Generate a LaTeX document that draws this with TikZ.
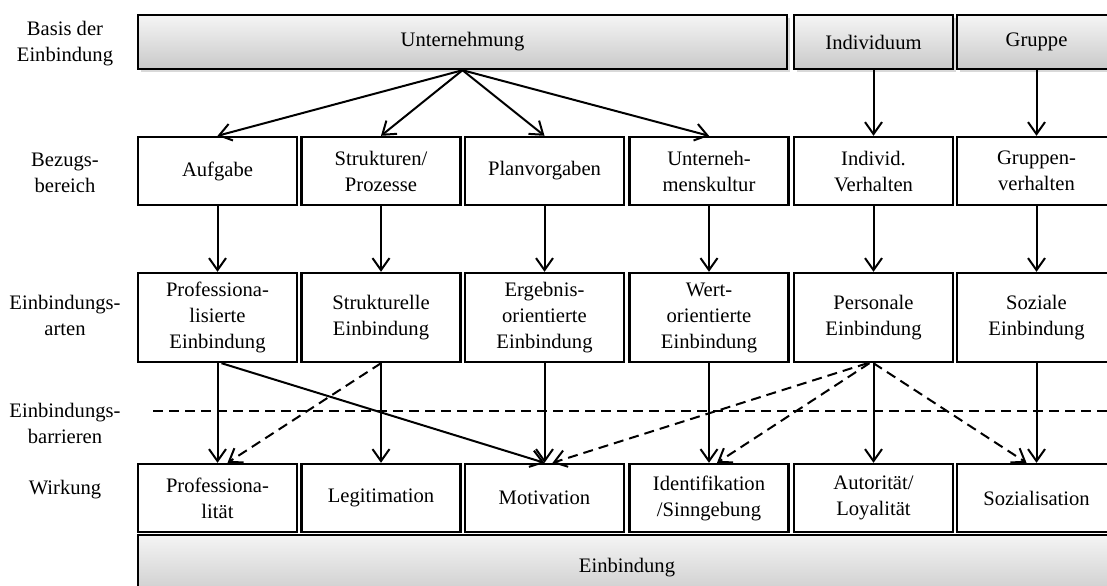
\documentclass[tikz,border=0pt]{standalone}
\usepackage{fontspec}
\setmainfont{Liberation Serif}
\usetikzlibrary{arrows.meta,shadows}

\tikzset{
  box/.style={draw,line width=1.2pt,fill=white,minimum width=79.5pt,align=center,
    inner sep=1pt,font=\fontsize{10.3}{13}\selectfont},
  basis/.style={box,top color=gray!8,bottom color=gray!42,
    drop shadow={shadow xshift=1.5pt,shadow yshift=-1.5pt,opacity=0.3}},
  lbl/.style={align=center,font=\fontsize{10.3}{13}\selectfont},
  pfeil/.style={line width=1pt,-{Straight Barb[length=6pt,width=8.5pt]}},
  strich/.style={pfeil,dash pattern=on 5pt off 3pt},
}

\begin{document}
\begin{tikzpicture}[x=0.5pt,y=-0.5pt]
  \clip (0,0) rectangle (1107,585);

  % left column: the levels
  \node[lbl] (l1) at (65,44) {Basis der\\Einbindung};
  \node[lbl] (l2) at (65,173) {Bezugs-\\bereich};
  \node[lbl] (l3) at (65,315) {Einbindungs-\\arten};
  \node[lbl] (l4) at (65,423) {Einbindungs-\\barrieren};
  \node[lbl] (l5) at (65,490) {Wirkung};

  % basis of the binding
  \node[basis,minimum width=324.5pt,minimum height=27pt] (unt) at (462.5,42) {Unternehmung};
  \node[basis,minimum height=27pt] (ind) at (873.5,42) {Individuum};
  \node[basis,minimum height=27pt] (grp) at (1036.5,42) {Gruppe};

  % reference areas
  \node[box,minimum height=34pt] (b1) at (217.5,171) {Aufgabe};
  \node[box,minimum height=34pt] (b2) at (381,171) {Strukturen/\\Prozesse};
  \node[box,minimum height=34pt] (b3) at (544.5,171) {Planvorgaben};
  \node[box,minimum height=34pt] (b4) at (709,171) {Unterneh-\\menskultur};
  \node[box,minimum height=34pt] (b5) at (873.5,171) {Individ.\\Verhalten};
  \node[box,minimum height=34pt] (b6) at (1036.5,171) {Gruppen-\\verhalten};

  % kinds of binding
  \node[box,minimum height=44.5pt] (e1) at (217.5,317.5) {Professiona-\\lisierte\\Einbindung};
  \node[box,minimum height=44.5pt] (e2) at (381,317.5) {Strukturelle\\Einbindung};
  \node[box,minimum height=44.5pt] (e3) at (544.5,317.5) {Ergebnis-\\orientierte\\Einbindung};
  \node[box,minimum height=44.5pt] (e4) at (709,317.5) {Wert-\\orientierte\\Einbindung};
  \node[box,minimum height=44.5pt] (e5) at (873.5,317.5) {Personale\\Einbindung};
  \node[box,minimum height=44.5pt] (e6) at (1036.5,317.5) {Soziale\\Einbindung};

  % effects
  \node[box,minimum height=34pt] (w1) at (217.5,498) {Professiona-\\lität};
  \node[box,minimum height=34pt] (w2) at (381,498) {Legitimation};
  \node[box,minimum height=34pt] (w3) at (544.5,498) {Motivation};
  \node[box,minimum height=34pt] (w4) at (709,498) {Identifikation\\/Sinngebung};
  \node[box,minimum height=34pt] (w5) at (873.5,498) {Autorität/\\Loyalität};
  \node[box,minimum height=34pt] (w6) at (1036.5,498) {Sozialisation};

  \node[basis,minimum width=489pt,minimum height=32.5pt] (ein) at (627,567.5) {Einbindung};

  % barriers
  \coordinate (barL) at (153,411);
  \coordinate (barR) at (1107,411);
  \draw[line width=1pt,dash pattern=on 5pt off 3pt] (barL) -- (barR);

  % arrows
  \foreach \i in {1,...,4}
    \draw[pfeil] (unt.south) -- (b\i.north);
  \draw[pfeil] (ind) -- (b5);
  \draw[pfeil] (grp) -- (b6);
  \foreach \i in {1,...,6}
  {
    \draw[pfeil] (b\i) -- (e\i);
    \draw[pfeil] (e\i) -- (w\i);
  }
  \draw[pfeil] ([xshift=2pt]e1.south) -- (w3.north);
  \draw[strich] (e2.south) -- ([xshift=5pt]w1.north);
  \draw[strich] ([xshift=-3pt]e5.south) -- ([xshift=4pt]w3.north);
  \draw[strich] ([xshift=-2pt]e5.south) -- ([xshift=4pt]w4.north);
  \draw[strich] (e5.south) -- ([xshift=-5pt]w6.north);
\end{tikzpicture}
\end{document}
